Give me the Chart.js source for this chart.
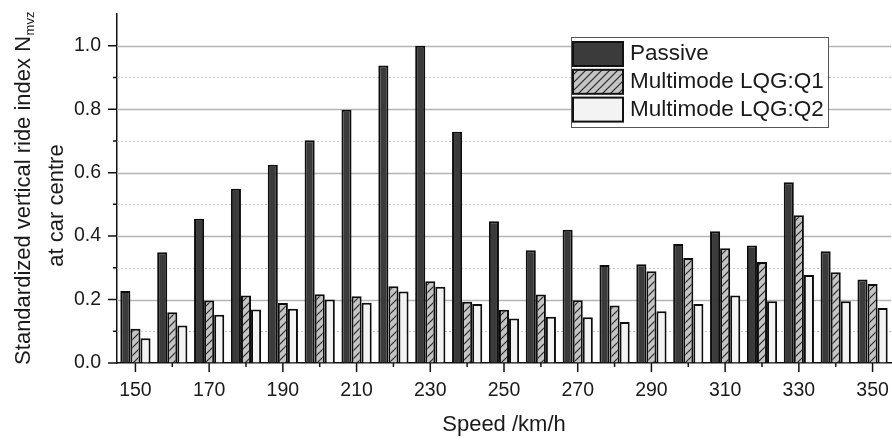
<!DOCTYPE html>
<html>
<head>
<meta charset="utf-8">
<script src="https://cdn.jsdelivr.net/npm/chart.js@4.4.1/dist/chart.umd.min.js"></script>
<style>
  html, body { margin: 0; padding: 0; background: #ffffff; }
  #wrap { width: 892px; height: 443px; }
</style>
</head>
<body>
<div id="wrap"><canvas id="chart" width="892" height="443"></canvas></div>
<script>
// Train speeds (km/h) and standardized vertical ride index per control mode
const speeds = [150, 160, 170, 180, 190, 200, 210, 220, 230, 240, 250,
                260, 270, 280, 290, 300, 310, 320, 330, 340, 350];
const passive = [0.227, 0.349, 0.455, 0.549, 0.625, 0.702, 0.798, 0.938, 1.000, 0.729, 0.447,
                 0.355, 0.420, 0.309, 0.311, 0.375, 0.415, 0.370, 0.570, 0.352, 0.263];
const lqgQ1   = [0.108, 0.160, 0.197, 0.213, 0.189, 0.217, 0.210, 0.242, 0.258, 0.193, 0.168,
                 0.216, 0.198, 0.181, 0.289, 0.331, 0.362, 0.318, 0.466, 0.286, 0.249];
const lqgQ2   = [0.078, 0.118, 0.152, 0.169, 0.171, 0.200, 0.190, 0.225, 0.240, 0.186, 0.140,
                 0.146, 0.144, 0.129, 0.163, 0.186, 0.213, 0.195, 0.277, 0.195, 0.173];
const seriesNames = ['Passive', 'Multimode LQG:Q1', 'Multimode LQG:Q2'];
const yMajorTicks = [0.0, 0.2, 0.4, 0.6, 0.8, 1.0];

const FONT = "'Liberation Sans', Arial, sans-serif";
const TEXT = '#1a1a1a';

// Diagonal hatch fill used by the Q1 bars
function hatchPattern() {
  const s = 8;
  const c = document.createElement('canvas');
  c.width = s; c.height = s;
  const g = c.getContext('2d');
  g.fillStyle = '#c4c4c4';
  g.fillRect(0, 0, s, s);
  g.strokeStyle = '#2a2a2a';
  g.lineWidth = 1.2;
  g.beginPath();
  g.moveTo(0, s); g.lineTo(s, 0);
  g.moveTo(-1, 1); g.lineTo(1, -1);
  g.moveTo(s - 1, s + 1); g.lineTo(s + 1, s - 1);
  g.stroke();
  return g.createPattern(c, 'repeat');
}
const fills = ['#3b3b3b', hatchPattern(), '#f3f3f3'];

// Horizontal grid: solid at labelled values, dotted halfway between
const gridPlugin = {
  id: 'grid',
  beforeDatasetsDraw(chart) {
    const { ctx, chartArea } = chart;
    const y = chart.scales.y;
    ctx.save();
    for (let k = 1; k <= 10; k++) {
      const v = k / 10;
      const py = Math.round(y.getPixelForValue(v)) + 0.5;
      const major = k % 2 === 0;
      ctx.strokeStyle = major ? '#b4b4b4' : '#c8c8c8';
      ctx.lineWidth = major ? 1.3 : 1;
      ctx.setLineDash(major ? [] : [2, 2]);
      ctx.beginPath();
      ctx.moveTo(chartArea.left, py);
      ctx.lineTo(chartArea.right, py);
      ctx.stroke();
    }
    ctx.restore();
  }
};

// Outward tick marks, long at labelled positions and short in between
const tickPlugin = {
  id: 'ticks',
  afterDraw(chart) {
    const { ctx, chartArea } = chart;
    const x = chart.scales.x, y = chart.scales.y;
    ctx.save();
    ctx.strokeStyle = '#111';
    ctx.lineWidth = 1.5;
    ctx.beginPath();
    for (let k = 0; k <= 10; k++) {
      const py = y.getPixelForValue(k / 10);
      const len = k % 2 === 0 ? 9 : 4;
      ctx.moveTo(chartArea.left, py);
      ctx.lineTo(chartArea.left - len, py);
    }
    speeds.forEach((s, i) => {
      const px = x.getPixelForValue(i);
      const len = i % 2 === 0 ? 9 : 4;
      ctx.moveTo(px, chartArea.bottom);
      ctx.lineTo(px, chartArea.bottom + len);
    });
    ctx.stroke();
    ctx.restore();
  }
};

// Two-line rotated y title with subscript
const yTitlePlugin = {
  id: 'yTitle',
  afterDraw(chart) {
    const { ctx, chartArea } = chart;
    const cy = (chartArea.top + chartArea.bottom) / 2;
    ctx.save();
    ctx.fillStyle = TEXT;
    ctx.textBaseline = 'middle';
    ctx.translate(24, cy);
    ctx.rotate(-Math.PI / 2);
    const main = 'Standardized vertical ride index N';
    const sub = 'mvz';
    ctx.font = '22px ' + FONT;
    const w1 = ctx.measureText(main).width;
    ctx.font = '13px ' + FONT;
    const w2 = ctx.measureText(sub).width;
    const x0 = -(w1 + w2) / 2;
    ctx.font = '22px ' + FONT;
    ctx.textAlign = 'left';
    ctx.fillText(main, x0, 0);
    ctx.font = '13px ' + FONT;
    ctx.fillText(sub, x0 + w1 + 0.5, 6);
    ctx.restore();

    ctx.save();
    ctx.fillStyle = TEXT;
    ctx.textBaseline = 'middle';
    ctx.textAlign = 'center';
    ctx.font = '22px ' + FONT;
    ctx.translate(57, cy + 17);
    ctx.rotate(-Math.PI / 2);
    ctx.fillText('at car centre', 0, 0);
    ctx.restore();
  }
};

// Boxed legend inside the plot area
const legendPlugin = {
  id: 'boxLegend',
  afterDraw(chart) {
    const { ctx } = chart;
    const bx = 571, by = 37, bw = 257, bh = 90;
    ctx.save();
    ctx.fillStyle = '#ffffff';
    ctx.fillRect(bx, by, bw, bh);
    ctx.strokeStyle = '#555';
    ctx.lineWidth = 1;
    ctx.strokeRect(bx + 0.5, by + 0.5, bw, bh);
    chart.data.datasets.forEach((ds, i) => {
      const ry = by + 5 + i * 27.8;
      ctx.fillStyle = ds.backgroundColor;
      ctx.fillRect(bx + 2, ry, 50, 24);
      ctx.strokeStyle = '#111';
      ctx.lineWidth = 2;
      ctx.strokeRect(bx + 2, ry, 50, 24);
      ctx.fillStyle = TEXT;
      ctx.font = '22.5px ' + FONT;
      ctx.textBaseline = 'middle';
      ctx.textAlign = 'left';
      ctx.fillText(ds.label, bx + 59, ry + 12);
    });
    ctx.restore();
  }
};

const seriesValues = [passive, lqgQ1, lqgQ2];
const datasets = seriesNames.map((name, i) => ({
  label: name,
  data: seriesValues[i],
  backgroundColor: fills[i],
  borderColor: '#0d0d0d',
  borderWidth: 2,
  barPercentage: 1.0,
  categoryPercentage: 0.82
}));

new Chart(document.getElementById('chart'), {
  type: 'bar',
  data: { labels: speeds.map(String), datasets },
  plugins: [gridPlugin, tickPlugin, yTitlePlugin, legendPlugin],
  options: {
    responsive: false,
    animation: false,
    devicePixelRatio: 1,
    layout: { padding: { top: 14, right: 1, left: 0, bottom: 0 } },
    plugins: { legend: { display: false }, tooltip: { enabled: false } },
    scales: {
      x: {
        type: 'category',
        grid: { display: true, drawOnChartArea: false, drawTicks: true, tickLength: 9, color: 'rgba(0,0,0,0)', tickColor: 'rgba(0,0,0,0)' },
        border: { display: true, color: '#111', width: 1.5 },
        ticks: {
          autoSkip: false, maxRotation: 0, minRotation: 0, padding: 7,
          color: TEXT, font: { family: FONT, size: 19.5 },
          callback(val, idx) { return idx % 2 === 0 ? this.getLabelForValue(val) : ''; }
        },
        title: {
          display: true, text: 'Speed /km/h', color: TEXT,
          font: { family: FONT, size: 22 }, padding: { top: 0, bottom: 5 }
        },
        afterFit(scale) { scale.height = 80; scale.paddingLeft = 0; scale.paddingRight = 0; }
      },
      y: {
        min: 0, max: 1.1,
        grid: { display: true, drawOnChartArea: false, drawTicks: true, tickLength: 9, color: 'rgba(0,0,0,0)', tickColor: 'rgba(0,0,0,0)' },
        border: { display: true, color: '#111', width: 1.5 },
        ticks: {
          stepSize: 0.1, padding: 7, color: TEXT, font: { family: FONT, size: 19.5 },
          callback(v) {
            const r = Math.round(v * 10) / 10;
            return yMajorTicks.some(t => Math.abs(t - r) < 1e-6) ? r.toFixed(1) : '';
          }
        },
        afterFit(scale) { scale.width = 117; scale.paddingTop = 0; scale.paddingBottom = 0; }
      }
    }
  }
});
</script>
</body>
</html>
